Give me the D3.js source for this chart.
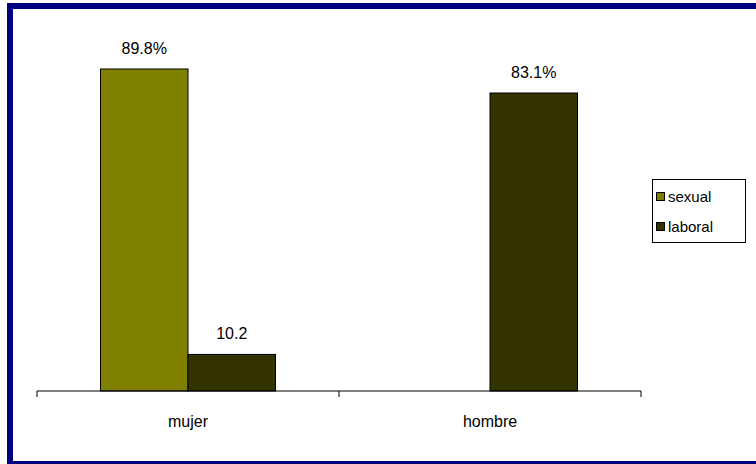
<!DOCTYPE html>
<html><head><meta charset="utf-8">
<script src="https://cdn.jsdelivr.net/npm/d3@7"></script>
<style>body{margin:0;background:#fff}svg{display:block}text{font-family:"Liberation Sans",Arial,sans-serif;fill:#000}</style>
</head><body>
<svg id="c" width="756" height="464"></svg>
<script>
const categories = ["mujer", "hombre"];
const seriesNames = ["sexual", "laboral"];
const sexualValues = [89.8, null];
const laboralValues = [10.2, 83.1];
const sexualLabels = ["89.8%", ""];
const laboralLabels = ["10.2", "83.1%"];
const seriesColors = ["#808000", "#333300"];

const svg = d3.select("#c");
svg.append("rect").attr("x",10).attr("y",6).attr("width",760).attr("height",458)
  .attr("fill","#fff").attr("stroke","#000080").attr("stroke-width",6);

const x0 = d3.scaleBand().domain(categories).range([37, 641]).padding(0);
const x1 = d3.scaleBand().domain(seriesNames).range([0, x0.bandwidth()]).paddingInner(0).paddingOuter(0.7257);
const y = d3.scaleLinear().domain([0, 100]).range([391, 32.4]);

const series = [
  {name: seriesNames[0], values: sexualValues, labels: sexualLabels, color: seriesColors[0]},
  {name: seriesNames[1], values: laboralValues, labels: laboralLabels, color: seriesColors[1]}
];
const items = [];
series.forEach(s => categories.forEach((c, i) => {
  if (s.values[i] != null) items.push({cat: c, name: s.name, v: s.values[i], label: s.labels[i], color: s.color});
}));

svg.selectAll("rect.bar").data(items).enter().append("rect").attr("class","bar")
  .attr("x", d => x0(d.cat) + x1(d.name)).attr("width", x1.bandwidth())
  .attr("y", d => y(d.v)).attr("height", d => y(0) - y(d.v))
  .attr("fill", d => d.color).attr("stroke", "#000").attr("stroke-width", 1);

svg.selectAll("text.lbl").data(items).enter().append("text").attr("class","lbl")
  .attr("x", d => x0(d.cat) + x1(d.name) + x1.bandwidth()/2)
  .attr("y", d => y(d.v) - 15).attr("text-anchor","middle").attr("font-size",16)
  .text(d => d.label);

// axis
const ax = svg.append("g").attr("transform", `translate(0,${y(0)})`)
  .call(d3.axisBottom(x0).tickSize(0).tickPadding(25));
ax.select(".domain").attr("stroke","#000").attr("d", `M${x0.range()[0]},0H${x0.range()[1]}`);
ax.selectAll(".tick text").attr("font-size",16).attr("font-family","Liberation Sans, Arial, sans-serif").attr("fill","#000");
const edges = categories.map(c => x0(c)).concat([x0.range()[1]]);
ax.selectAll("line.edge").data(edges).enter().append("line").attr("class","edge")
  .attr("x1", d => d).attr("x2", d => d).attr("y1", 0).attr("y2", 6).attr("stroke","#000");

// legend
const lg = svg.append("g");
lg.append("rect").attr("x",652.5).attr("y",179.5).attr("width",93).attr("height",63)
  .attr("fill","#fff").attr("stroke","#000").attr("stroke-width",1);
series.forEach((s, i) => {
  const cy = 197 + i*30;
  lg.append("rect").attr("x",656.5).attr("y",cy-4.5).attr("width",8).attr("height",8)
    .attr("fill",s.color).attr("stroke","#000");
  lg.append("text").attr("x",668).attr("y",cy+5).attr("font-size",15).text(s.name);
});
</script>
</body></html>
